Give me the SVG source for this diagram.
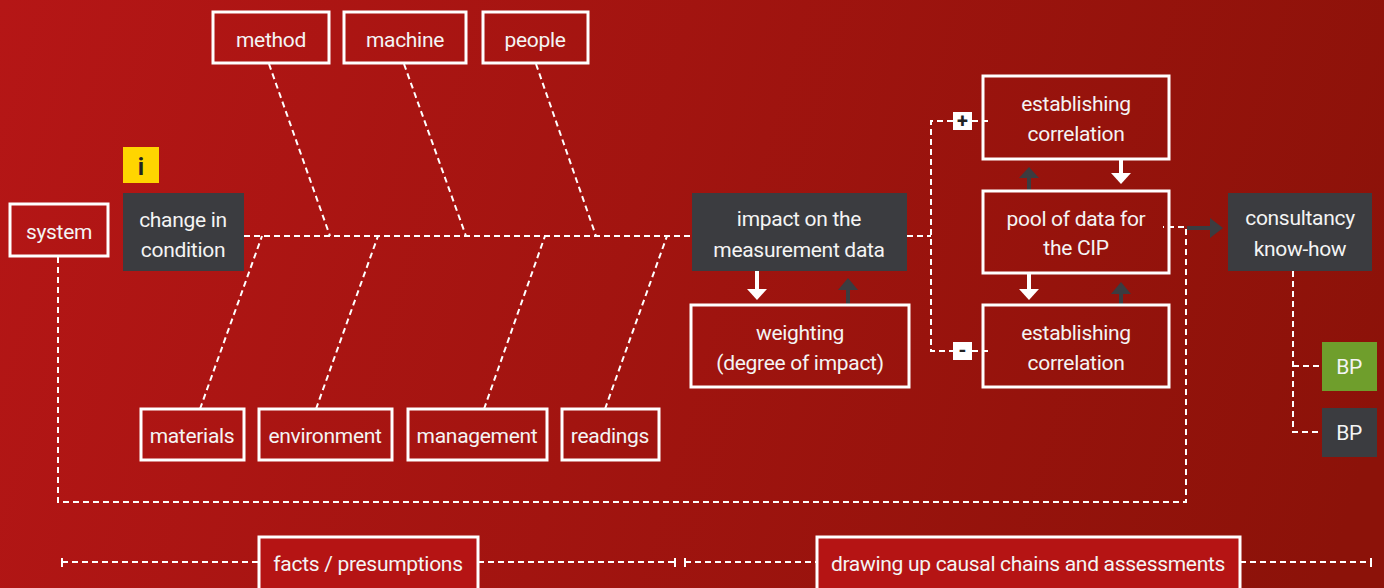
<svg xmlns="http://www.w3.org/2000/svg" width="1384" height="588" viewBox="0 0 1384 588">
<defs>
<linearGradient id="bg" x1="0" y1="0" x2="1384" y2="400" gradientUnits="userSpaceOnUse">
<stop offset="0" stop-color="#b51616"/>
<stop offset="1" stop-color="#8c1209"/>
</linearGradient>
<style>
.box{fill:none;stroke:#fff;stroke-width:3}
.rbox{fill:#b51414;stroke:#fff;stroke-width:3}
.dark{fill:#3b3c40}
.t{font-family:Roboto,"Open Sans",sans-serif;font-size:21px;letter-spacing:-0.3px;fill:#f4f4f4;text-anchor:middle}
.d{fill:none;stroke:#fff;stroke-width:2;stroke-dasharray:6 4}
.wa{stroke:#fff;stroke-width:4}
.da{stroke:#3b3c40;stroke-width:4}
.tick{stroke:#fff;stroke-width:2}
</style>
</defs>
<rect width="1384" height="588" fill="url(#bg)"/>

<g id="connectors">
<!-- spine -->
<line class="d" x1="244" y1="236" x2="691" y2="236"/>
<line class="d" x1="907" y1="236" x2="931" y2="236"/>
<!-- upper bones -->
<line class="d" x1="269" y1="64" x2="330" y2="236"/>
<line class="d" x1="404" y1="64" x2="466" y2="236"/>
<line class="d" x1="536" y1="64" x2="596" y2="236"/>
<!-- lower bones -->
<line class="d" x1="200" y1="409" x2="262" y2="236"/>
<line class="d" x1="316" y1="409" x2="378" y2="236"/>
<line class="d" x1="484" y1="409" x2="545" y2="236"/>
<line class="d" x1="605" y1="409" x2="667" y2="236"/>
<!-- split to correlations -->
<polyline class="d" points="953,121 931,121 931,351 953,351"/>
<line class="d" x1="972" y1="121" x2="992" y2="121"/>
<line class="d" x1="972" y1="351" x2="992" y2="351"/>
<!-- system loop -->
<polyline class="d" points="58,257 58,502 1186,502 1186,227 1163,227"/>
<!-- consultancy to BP -->
<polyline class="d" points="1293,271 1293,432 1322,432"/>
<line class="d" x1="1293" y1="366" x2="1322" y2="366"/>
<!-- arrows -->
<line class="wa" x1="757" y1="271" x2="757" y2="290"/>
<polygon fill="#fff" points="747,289 767,289 757,300"/>
<line class="da" x1="848" y1="305" x2="848" y2="288"/>
<polygon fill="#3b3c40" points="838,290 858,290 848,278"/>
<line class="wa" x1="1121" y1="159" x2="1121" y2="174"/>
<polygon fill="#fff" points="1111,173 1131,173 1121,184"/>
<line class="da" x1="1029" y1="191" x2="1029" y2="176"/>
<polygon fill="#3b3c40" points="1019,178 1039,178 1029,167"/>
<line class="wa" x1="1029" y1="273" x2="1029" y2="290"/>
<polygon fill="#fff" points="1019,289 1039,289 1029,300"/>
<line class="da" x1="1121" y1="305" x2="1121" y2="292"/>
<polygon fill="#3b3c40" points="1111,294 1131,294 1121,282"/>
<line class="da" x1="1187" y1="228" x2="1211" y2="228"/>
<polygon fill="#3b3c40" points="1210,218 1210,238 1223,228"/>
<!-- timeline -->
<line class="d" x1="62" y1="562" x2="259" y2="562"/>
<line class="d" x1="478" y1="562" x2="675" y2="562"/>
<line class="d" x1="685" y1="562" x2="817" y2="562"/>
<line class="d" x1="1240" y1="562" x2="1371" y2="562"/>
<line class="tick" x1="62" y1="558" x2="62" y2="567"/>
<line class="tick" x1="675" y1="558" x2="675" y2="567"/>
<line class="tick" x1="685" y1="558" x2="685" y2="567"/>
<line class="tick" x1="1371" y1="558" x2="1371" y2="567"/>
</g>

<g id="system"><rect class="box" x="10" y="204" width="98" height="52"/><text class="t" x="59" y="239">system</text></g>
<g id="info"><rect fill="#ffd500" x="123" y="147" width="36" height="36"/><text x="141" y="175" font-family="Roboto,sans-serif" font-weight="bold" font-size="24" fill="#222" text-anchor="middle">i</text></g>
<g id="change"><rect class="dark" x="123" y="193" width="121" height="78"/><text class="t" x="183" y="227">change in</text><text class="t" x="183" y="257">condition</text></g>

<g id="method"><rect class="box" x="213" y="12" width="116" height="51"/><text class="t" x="271" y="47">method</text></g>
<g id="machine"><rect class="box" x="344" y="12" width="122" height="51"/><text class="t" x="405" y="47">machine</text></g>
<g id="people"><rect class="box" x="483" y="12" width="105" height="51"/><text class="t" x="535" y="47">people</text></g>

<g id="materials"><rect class="box" x="141" y="409" width="103" height="51"/><text class="t" x="192" y="443">materials</text></g>
<g id="environment"><rect class="box" x="259" y="409" width="133" height="51"/><text class="t" x="325" y="443">environment</text></g>
<g id="management"><rect class="box" x="408" y="409" width="139" height="51"/><text class="t" x="477" y="443">management</text></g>
<g id="readings"><rect class="box" x="562" y="409" width="97" height="51"/><text class="t" x="610" y="443">readings</text></g>

<g id="impact"><rect class="dark" x="692" y="193" width="215" height="78"/><text class="t" x="799" y="226">impact on the</text><text class="t" x="799" y="257">measurement data</text></g>
<g id="weighting"><rect class="box" x="691" y="305" width="218" height="82"/><text class="t" x="800" y="340">weighting</text><text class="t" x="800" y="370">(degree of impact)</text></g>

<g id="plus"><rect fill="#fff" x="953" y="112" width="19" height="18"/><text x="962.5" y="128" font-family="Roboto,sans-serif" font-weight="bold" font-size="20" fill="#222" text-anchor="middle">+</text></g>
<g id="minus"><rect fill="#fff" x="953" y="342" width="19" height="18"/><text x="962.5" y="357" font-family="Roboto,sans-serif" font-weight="bold" font-size="20" fill="#222" text-anchor="middle">-</text></g>

<g id="corr-top"><rect class="box" x="983" y="76" width="186" height="83"/><text class="t" x="1076" y="111">establishing</text><text class="t" x="1076" y="141">correlation</text></g>
<g id="pool"><rect class="box" x="983" y="191" width="186" height="82"/><text class="t" x="1076" y="226">pool of data for</text><text class="t" x="1076" y="255">the CIP</text></g>
<g id="corr-bottom"><rect class="box" x="983" y="305" width="186" height="82"/><text class="t" x="1076" y="340">establishing</text><text class="t" x="1076" y="370">correlation</text></g>

<g id="consultancy"><rect class="dark" x="1228" y="193" width="144" height="78"/><text class="t" x="1300" y="225">consultancy</text><text class="t" x="1300" y="256">know-how</text></g>
<g id="bp-green"><rect fill="#6f9e2c" x="1322" y="342" width="55" height="49"/><text class="t" x="1349" y="374">BP</text></g>
<g id="bp-dark"><rect class="dark" x="1322" y="408" width="55" height="49"/><text class="t" x="1349" y="440">BP</text></g>

<g id="facts"><rect class="rbox" x="259" y="537" width="219" height="60"/><text class="t" x="368" y="571">facts / presumptions</text></g>
<g id="causal"><rect class="rbox" x="817" y="537" width="423" height="60"/><text class="t" x="1028" y="571">drawing up causal chains and assessments</text></g>
</svg>
